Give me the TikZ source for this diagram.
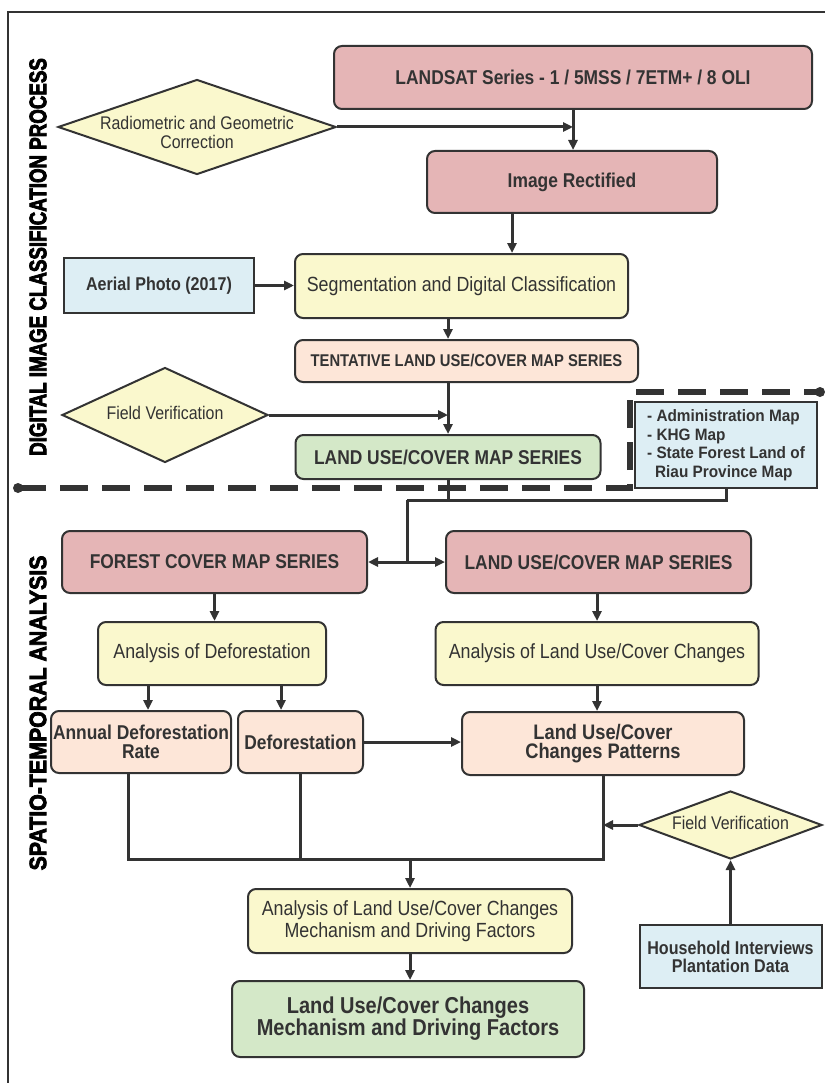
\documentclass[tikz,border=0pt]{standalone}
\usepackage{fontspec}
\setmainfont{Liberation Sans}[FakeStretch=0.87]
\newfontfamily\bandA{Liberation Sans}[FakeStretch=0.78,FakeBold=3]
\newfontfamily\bandB{Liberation Sans}[FakeStretch=0.9,FakeBold=3]
\newfontfamily\listfont{Liberation Sans}[FakeStretch=0.93]
\usetikzlibrary{shapes.geometric,arrows.meta}
\definecolor{edge}{HTML}{333333}
\definecolor{ink}{HTML}{333333}
\definecolor{rose}{HTML}{E5B5B6}
\definecolor{cream}{HTML}{FAF8CD}
\definecolor{peach}{HTML}{FDE6D8}
\definecolor{sage}{HTML}{D4E8C8}
\definecolor{sky}{HTML}{DDEEF4}
\newcommand{\dtext}[2][-4.6pt]{\makebox[0pt]{\raisebox{#1}[0pt][0pt]{\begin{tabular}{@{}c@{}}#2\end{tabular}}}}
\begin{document}
\begin{tikzpicture}[x=1pt, y=-1pt,
  box/.style={draw=edge, line width=2pt, rounded corners=8pt, inner sep=0pt, text=ink, align=center},
  sqbox/.style={box, rounded corners=0pt},
  diam/.style={diamond, draw=edge, fill=cream, line width=2pt, inner sep=0pt, text=ink},
  fbold/.style={font=\fontsize{20}{19}\selectfont\bfseries},
  freg/.style={font=\fontsize{20.5}{22}\selectfont},
  fdiam/.style={font=\fontsize{18.3}{19}\selectfont},
  link/.style={draw=edge, line width=3pt},
  arr/.style={link, -{Triangle[length=10pt,width=9pt]}},
  dblarr/.style={link, {Triangle[length=10pt,width=9pt]}-{Triangle[length=10pt,width=9pt]}},
  dashline/.style={draw=edge, line width=6pt, dash pattern=on 28pt off 14pt}]
\useasboundingbox (0,0) rectangle (824,1083);
\draw[edge, line width=1.5pt] (8,1083) -- (8,12) -- (826,12);

\node[rotate=90, text=black, font=\fontsize{24}{24}\selectfont\bandA\bfseries] (bandtop) at (38,257) {DIGITAL IMAGE CLASSIFICATION PROCESS};
\node[rotate=90, text=black, font=\fontsize{23.7}{24}\selectfont\bandB\bfseries] (bandbot) at (38,713) {SPATIO-TEMPORAL ANALYSIS};

\coordinate (dashL) at (18,488);
\coordinate (dashC) at (630,488);
\coordinate (dashT) at (630,392);
\coordinate (dashR) at (820,392);
\draw[dashline] (dashL) -- (dashC) -- (dashT) -- (dashR);
\fill[edge] (dashL) circle (5pt);
\fill[edge] (dashR) circle (5pt);

\node[box, fill=rose, fbold, minimum width=478pt, minimum height=63pt] (landsat) at (573,77.5) {LANDSAT Series - 1 / 5MSS / 7ETM+ / 8 OLI};
\node[diam, fdiam, minimum width=278pt, minimum height=95pt] (radio) at (197,127) {\dtext[-13pt]{Radiometric and Geometric\\Correction}};
\node[box, fill=rose, fbold, minimum width=290pt, minimum height=62pt] (rectified) at (572,182) {Image Rectified};
\node[sqbox, fill=sky, font=\fontsize{18.5}{19}\selectfont\bfseries, minimum width=190pt, minimum height=55pt] (aerial) at (159,285.5) {Aerial Photo (2017)};
\node[box, fill=cream, freg, minimum width=333pt, minimum height=64pt] (segment) at (461.5,286) {Segmentation and Digital Classification};
\node[box, fill=peach, font=\fontsize{17}{17}\selectfont\bfseries, minimum width=343pt, minimum height=42pt] (tentative) at (466.5,361) {TENTATIVE LAND USE/COVER MAP SERIES};
\node[diam, fdiam, minimum width=206pt, minimum height=95pt] (fieldA) at (165,415) {\dtext{Field Verification}};
\node[box, fill=sage, fbold, minimum width=305pt, minimum height=44pt] (lucmap) at (448,457) {LAND USE/COVER MAP SERIES};
\node[sqbox, fill=sky, font=\fontsize{16.5}{18.5}\selectfont\listfont\bfseries, align=left, minimum width=182pt, minimum height=86pt] (admin) at (726,445) {- Administration Map\\- KHG Map\\- State Forest Land of\\\hspace{8pt}Riau Province Map};

\node[box, fill=rose, fbold, minimum width=305pt, minimum height=62pt] (forest) at (214.5,562) {FOREST COVER MAP SERIES};
\node[box, fill=rose, fbold, minimum width=305pt, minimum height=62pt] (lucseries) at (598.5,562) {LAND USE/COVER MAP SERIES};
\node[box, fill=cream, freg, minimum width=228pt, minimum height=63pt] (anadefor) at (212,653.5) {Analysis of Deforestation};
\node[box, fill=cream, freg, minimum width=323pt, minimum height=63pt] (analucc) at (597,653.5) {Analysis of Land Use/Cover Changes};
\node[box, fill=peach, fbold, minimum width=180pt, minimum height=62pt] (annual) at (141,742) {Annual Deforestation\\Rate};
\node[box, fill=peach, fbold, minimum width=125pt, minimum height=62pt] (defor) at (300.5,742) {Deforestation};
\node[box, fill=peach, font=\fontsize{21}{19}\selectfont\bfseries, minimum width=282pt, minimum height=63pt] (pattern) at (603,743.5) {Land Use/Cover\\Changes Patterns};
\node[diam, fdiam, minimum width=183pt, minimum height=68pt] (fieldB) at (730.5,825) {\dtext{Field Verification}};
\node[box, fill=cream, freg, minimum width=324pt, minimum height=64pt] (anamech) at (410,921) {Analysis of Land Use/Cover Changes\\Mechanism and Driving Factors};
\node[sqbox, fill=sky, font=\fontsize{18.5}{18}\selectfont\bfseries, minimum width=182pt, minimum height=63pt] (household) at (730.5,956.5) {Household Interviews\\Plantation Data};
\node[box, fill=sage, font=\fontsize{23}{22}\selectfont\bfseries, minimum width=352pt, minimum height=76pt] (result) at (408,1019) {Land Use/Cover Changes\\Mechanism and Driving Factors};

\coordinate (colA) at (512,0);
\coordinate (colB) at (148,0);
\coordinate (colC) at (281,0);
\coordinate (colD) at (128,0);
\coordinate (join) at (407,500);
\coordinate (bus) at (410,859);

\draw[arr] (radio.east) -- (radio.east -| landsat.south);
\draw[arr] (landsat.south) -- (rectified.north -| landsat.south);
\draw[arr] (rectified.south -| colA) -- (segment.north -| colA);
\draw[arr] (aerial.east) -- (segment.west |- aerial.east);
\draw[arr] (segment.south -| lucmap.north) -- (tentative.north -| lucmap.north);
\draw[arr] (fieldA.east) -- (fieldA.east -| lucmap.north);
\draw[arr] (tentative.south -| lucmap.north) -- (lucmap.north);
\draw[link] (lucmap.south) |- (join);
\draw[link] (admin.south) |- (join);
\draw[link] (join) -- (join |- forest.east);
\draw[dblarr] (forest.east) -- (lucseries.west);
\draw[arr] (forest.south) -- (forest.south |- anadefor.north);
\draw[arr] (analucc.north |- lucseries.south) -- (analucc.north);
\draw[arr] (anadefor.south -| colB) -- (annual.north -| colB);
\draw[arr] (anadefor.south -| colC) -- (defor.north -| colC);
\draw[arr] (analucc.south) -- (analucc.south |- pattern.north);
\draw[arr] (defor.east) -- (pattern.west |- defor.east);
\draw[link] (annual.south -| colD) |- (bus) -| (pattern.south);
\draw[link] (defor.south) -- (defor.south |- bus);
\draw[arr] (fieldB.west) -- (fieldB.west -| pattern.south);
\draw[arr] (household.north) -- (fieldB.south);
\draw[arr] (bus) -- (anamech.north);
\draw[arr] (anamech.south) -- (result.north -| anamech.south);
\end{tikzpicture}
\end{document}
